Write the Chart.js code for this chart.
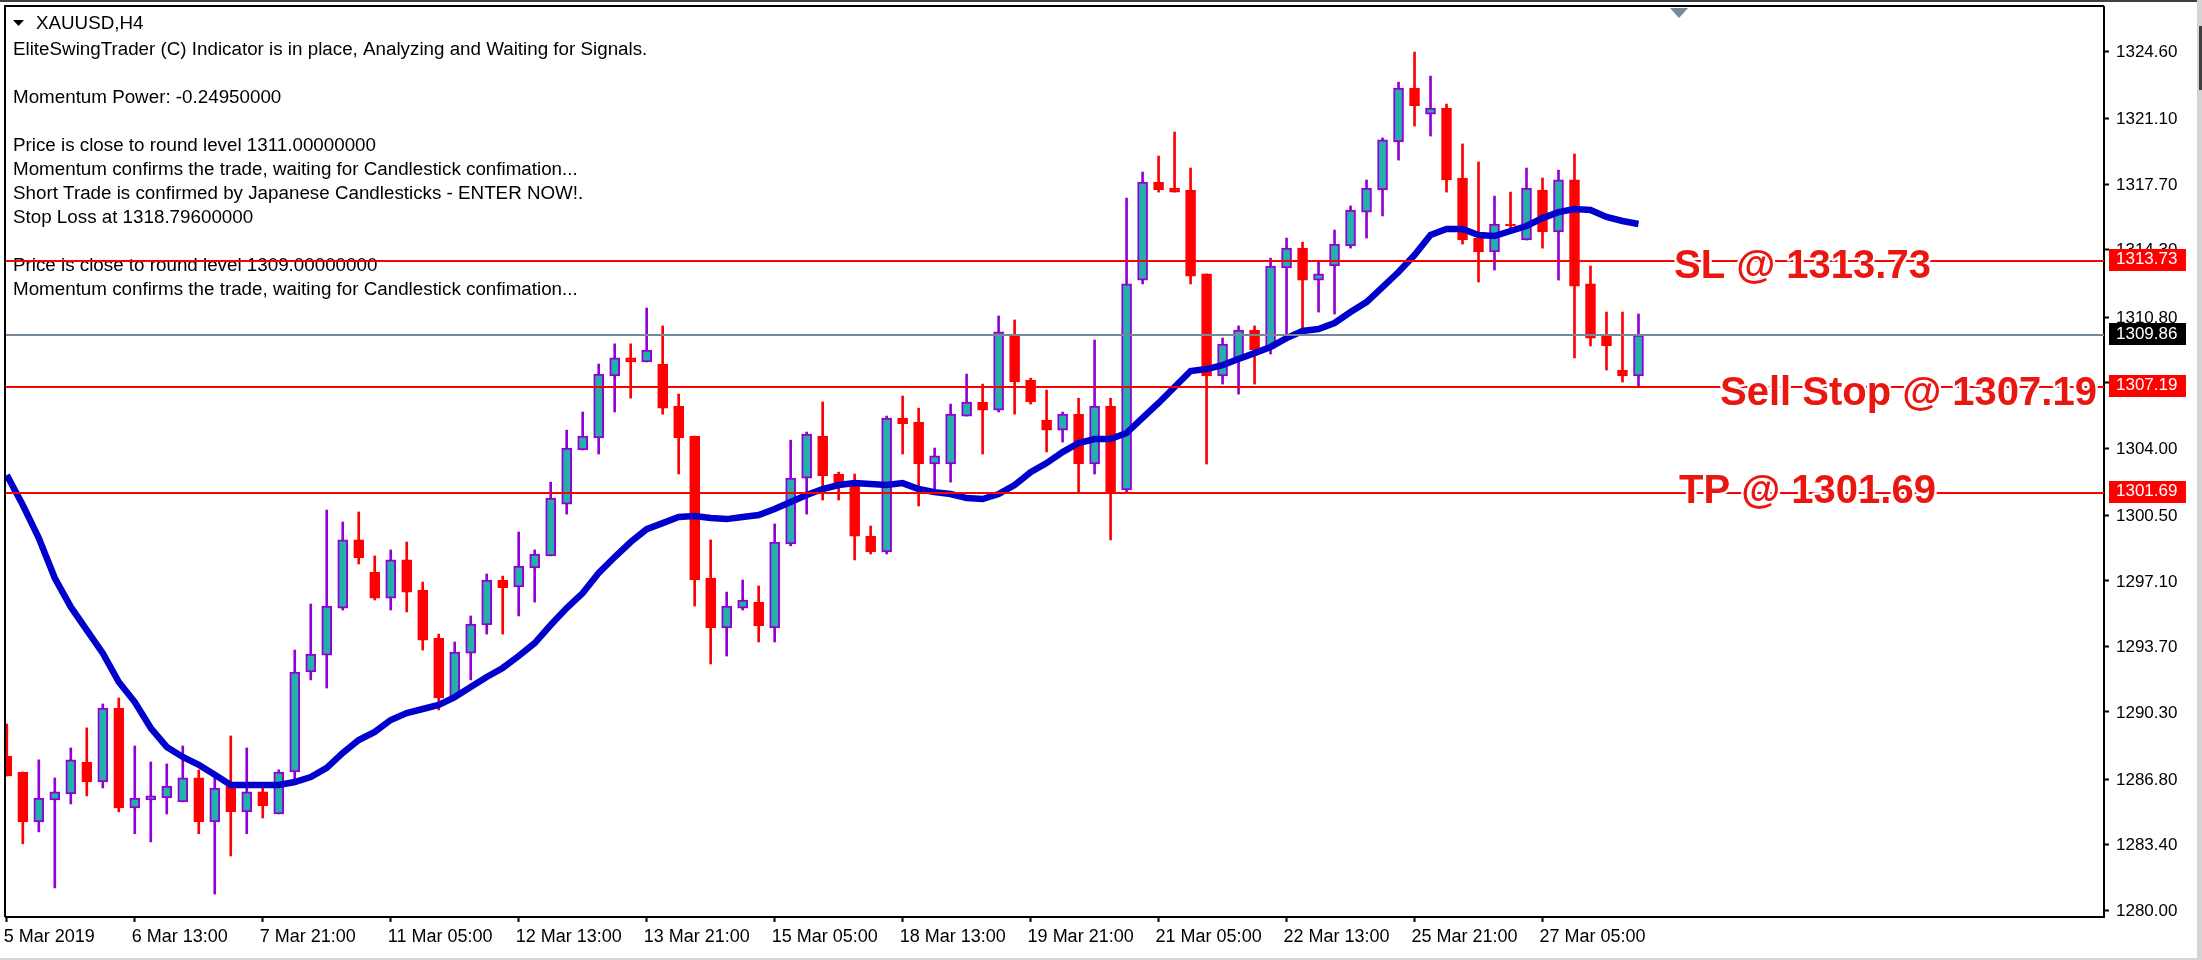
<!DOCTYPE html>
<html>
<head>
<meta charset="UTF-8">
<title>XAUUSD,H4</title>
<script src="https://cdn.jsdelivr.net/npm/chart.js"></script>
<style>
  html, body { margin: 0; padding: 0; background: #fff; overflow: hidden; }
  canvas { display: block; }
</style>
</head>
<body>
<canvas id="myChart" width="2202" height="960"></canvas>
<script>
// candles, oldest first, one every 4 hours
const opens = [1288.01,1287.18,1284.59,1285.73,1286.04,1287.70,1286.66,1290.50,1285.31,1285.73,
1285.83,1285.63,1286.87,1284.59,1286.45,1285.11,1286.15,1285.00,1287.18,1292.37,
1293.25,1295.69,1299.23,1297.56,1296.21,1298.19,1296.63,1294.13,1291.07,1293.35,
1294.81,1297.15,1296.79,1297.77,1298.40,1301.09,1303.90,1304.52,1307.74,1308.68,
1308.47,1308.36,1306.18,1304.62,1297.25,1294.66,1295.69,1296.00,1294.66,1299.02,
1302.44,1304.62,1302.65,1302.13,1299.43,1298.60,1305.56,1305.35,1303.17,1303.17,
1305.66,1306.39,1305.97,1309.92,1307.53,1305.45,1304.93,1305.76,1303.17,1306.18,
1301.82,1312.72,1317.81,1317.50,1317.40,1313.04,1307.74,1308.68,1310.13,1309.19,
1313.35,1314.38,1312.72,1313.45,1314.49,1316.25,1317.40,1319.89,1322.69,1321.34,
1321.65,1318.02,1314.90,1314.18,1315.63,1314.80,1317.40,1315.22,1317.92,1312.52,
1309.82,1308.05,1307.74];
const highs = [1289.67,1287.18,1287.81,1286.87,1288.43,1289.47,1290.71,1291.02,1288.53,1287.70,
1287.60,1288.53,1287.29,1286.87,1289.05,1288.43,1286.45,1287.29,1293.51,1295.90,
1300.78,1300.16,1300.68,1298.40,1298.71,1299.12,1297.04,1294.34,1293.93,1295.28,
1297.46,1297.35,1299.64,1298.71,1302.23,1304.93,1305.87,1308.36,1309.41,1309.41,
1311.27,1310.34,1306.80,1304.62,1299.23,1296.52,1297.15,1296.84,1300.06,1304.41,
1304.83,1306.39,1302.75,1302.65,1299.95,1305.66,1306.70,1306.07,1304.00,1306.28,
1307.84,1307.32,1310.86,1310.65,1307.63,1307.01,1305.87,1306.59,1309.61,1306.59,
1316.98,1318.33,1319.16,1320.41,1318.54,1313.04,1309.71,1310.34,1310.34,1313.86,
1314.90,1314.69,1313.66,1315.32,1316.57,1317.92,1320.10,1323.00,1324.56,1323.31,
1321.86,1319.79,1318.85,1317.08,1317.29,1318.54,1318.02,1318.43,1319.27,1313.45,
1311.06,1311.06,1310.96];
const lows = [1286.97,1283.45,1284.07,1281.16,1285.52,1285.94,1286.35,1285.11,1283.97,1283.55,
1285.00,1285.63,1283.97,1280.84,1282.82,1283.97,1284.79,1285.00,1286.77,1291.96,
1291.54,1295.59,1297.98,1296.11,1295.59,1295.49,1293.51,1290.40,1291.07,1291.96,
1294.34,1294.34,1295.28,1296.00,1298.40,1300.57,1303.90,1303.69,1305.87,1306.59,
1308.47,1305.76,1302.65,1295.80,1292.79,1293.20,1295.59,1293.93,1293.93,1298.92,
1300.57,1301.30,1301.30,1298.19,1298.50,1298.50,1303.69,1300.99,1301.71,1302.23,
1305.66,1303.69,1305.87,1305.76,1306.28,1303.80,1304.31,1301.71,1302.65,1299.23,
1301.71,1312.52,1317.29,1317.29,1312.52,1303.17,1307.32,1306.80,1307.32,1308.88,
1309.87,1310.13,1311.06,1310.96,1314.38,1314.90,1316.05,1318.95,1320.72,1320.20,
1317.29,1314.59,1312.62,1313.24,1315.32,1314.80,1314.38,1312.72,1308.68,1309.30,
1308.05,1307.43,1307.22];
const closes = [1286.97,1284.59,1285.83,1286.15,1287.81,1286.66,1290.50,1285.31,1285.83,1285.94,
1286.45,1286.87,1284.59,1286.35,1285.11,1286.15,1285.42,1287.18,1292.37,1293.30,
1295.80,1299.23,1298.29,1296.21,1298.19,1296.52,1294.03,1291.02,1293.41,1294.86,
1297.15,1296.74,1297.87,1298.50,1301.40,1304.00,1304.62,1307.84,1308.68,1308.47,
1309.09,1306.07,1304.52,1297.15,1294.66,1295.80,1296.11,1294.76,1299.12,1302.44,
1304.72,1302.55,1302.03,1299.43,1298.60,1305.56,1305.25,1303.17,1303.59,1305.76,
1306.39,1305.97,1310.03,1307.43,1306.39,1304.93,1305.76,1303.17,1306.18,1301.66,
1312.52,1317.81,1317.40,1317.29,1312.93,1307.74,1309.40,1310.13,1309.09,1313.45,
1314.38,1312.72,1313.04,1314.59,1316.36,1317.50,1320.00,1322.69,1321.76,1321.65,
1317.92,1314.80,1314.18,1315.63,1315.53,1317.50,1315.22,1317.92,1312.41,1309.71,
1309.30,1307.74,1309.86];
const movingAverage = [1302.60,1301.04,1299.33,1297.25,1295.75,1294.55,1293.35,1291.85,1290.81,1289.46,
1288.48,1287.96,1287.55,1287.03,1286.51,1286.51,1286.51,1286.51,1286.66,1286.92,
1287.39,1288.17,1288.84,1289.26,1289.88,1290.24,1290.45,1290.66,1291.07,1291.59,
1292.11,1292.58,1293.20,1293.87,1294.81,1295.69,1296.47,1297.51,1298.34,1299.12,
1299.79,1300.10,1300.42,1300.47,1300.37,1300.31,1300.42,1300.52,1300.83,1301.20,
1301.56,1301.87,1302.08,1302.18,1302.13,1302.08,1302.18,1301.87,1301.71,1301.61,
1301.40,1301.35,1301.61,1302.08,1302.75,1303.22,1303.79,1304.26,1304.47,1304.47,
1304.78,1305.56,1306.34,1307.17,1308.00,1308.10,1308.31,1308.62,1308.93,1309.25,
1309.71,1310.08,1310.18,1310.49,1311.06,1311.58,1312.36,1313.14,1314.02,1315.06,
1315.37,1315.37,1315.06,1315.01,1315.27,1315.53,1315.94,1316.25,1316.41,1316.36,
1316.00,1315.79,1315.63];

// axes
const priceTicks = [1280.00,1283.40,1286.80,1290.30,1293.70,1297.10,1300.50,1304.00,1307.40,1310.80,1314.30,1317.70,1321.10,1324.60];
const timeTickBars = [0,8,16,24,32,40,48,56,64,72,80,88,96];
const timeTickLabels = ["5 Mar 2019","6 Mar 13:00","7 Mar 21:00","11 Mar 05:00","12 Mar 13:00","13 Mar 21:00","15 Mar 05:00","18 Mar 13:00","19 Mar 21:00","21 Mar 05:00","22 Mar 13:00","25 Mar 21:00","27 Mar 05:00"];

// horizontal levels
const levelPrices = [1313.73, 1307.19, 1301.69];
const levelNames = ["SL @ 1313.73", "Sell Stop @ 1307.19", "TP @ 1301.69"];
const bidPrice = 1309.86;

const chartTitle = "XAUUSD,H4";
const commentLines = [
  "EliteSwingTrader (C) Indicator is in place, Analyzing and Waiting for Signals.",
  "",
  "Momentum Power: -0.24950000",
  "",
  "Price is close to round level 1311.00000000",
  "Momentum confirms the trade, waiting for Candlestick confimation...",
  "Short Trade is confirmed by Japanese Candlesticks - ENTER NOW!.",
  "Stop Loss at 1318.79600000",
  "",
  "Price is close to round level 1309.00000000",
  "Momentum confirms the trade, waiting for Candlestick confimation..."
];

const RED = '#ff0000', VIOLET = '#9400d3', TEAL = '#20b2aa', BLUE = '#0000cd', GRAY = '#778899';
const FONT = '"Liberation Sans", Arial, sans-serif';
const isUp = closes.map((c, i) => c > opens[i]);

// everything the library has no element for: frame, levels, price tags, texts
const overlay = {
  id: 'overlay',
  beforeDraw(chart) {
    const c = chart.ctx;
    c.save();
    c.fillStyle = '#fff';
    c.fillRect(0, 0, 2202, 960);
    c.fillStyle = '#404040';
    c.fillRect(0, 0, 2198, 2);
    c.fillStyle = '#d4d4d4';
    c.fillRect(0, 958, 2202, 2);
    c.fillRect(2197, 0, 5, 960);
    c.fillStyle = '#404040';
    c.fillRect(2199, 26, 3, 64);
    c.restore();
  },
  afterDatasetsDraw(chart) {
    const c = chart.ctx, a = chart.chartArea, y = chart.scales.y;
    c.save();
    // comment text sits under the level lines
    c.fillStyle = '#000';
    c.font = '18.8px ' + FONT;
    c.textBaseline = 'middle';
    c.fillText(chartTitle, 36, 24);
    commentLines.forEach((t, i) => c.fillText(t, 13, 50 + 24 * i));
    c.beginPath();
    c.moveTo(13, 20); c.lineTo(24, 20); c.lineTo(18.5, 26); c.closePath();
    c.fill();

    c.fillStyle = GRAY;
    c.fillRect(a.left, Math.round(y.getPixelForValue(bidPrice)) - 1, a.width, 2);
    c.fillStyle = RED;
    levelPrices.forEach(p => c.fillRect(a.left, Math.round(y.getPixelForValue(p)) - 1, a.width, 2));

    // shift marker on the top edge
    c.fillStyle = GRAY;
    c.beginPath();
    c.moveTo(1670, 8); c.lineTo(1688, 8); c.lineTo(1679, 18); c.closePath();
    c.fill();

    // big labels: white halo cuts the level line around the letters
    const nameX = [1674, 1720, 1679], nameDy = [17, 18, 10];
    c.font = 'bold 40px ' + FONT;
    c.textBaseline = 'alphabetic';
    c.lineJoin = 'round';
    levelNames.forEach((t, i) => {
      const py = y.getPixelForValue(levelPrices[i]) + nameDy[i];
      c.strokeStyle = '#fff';
      c.lineWidth = 5;
      c.strokeText(t, nameX[i], py);
      c.fillStyle = '#ea1710';
      c.fillText(t, nameX[i], py);
    });

    // frame, left and top
    c.fillStyle = '#000';
    c.fillRect(a.left - 2, a.top - 2, a.width + 2, 2);
    c.fillRect(a.left - 2, a.top - 2, 2, a.height + 2);
    c.restore();
  },
  afterDraw(chart) {
    const c = chart.ctx, y = chart.scales.y;
    const tag = (p, bg) => {
      const py = y.getPixelForValue(p);
      c.fillStyle = bg;
      c.fillRect(2109, Math.round(py) - 12, 77, 22);
      c.fillStyle = '#fff';
      c.font = '17px ' + FONT;
      c.textBaseline = 'middle';
      c.fillText(p.toFixed(2), 2116, py - 1);
    };
    c.save();
    levelPrices.forEach(p => tag(p, RED));
    tag(bidPrice, '#000');
    c.restore();
  }
};

new Chart(document.getElementById('myChart'), {
  type: 'bar',
  data: {
    datasets: [
      {
        type: 'line',
        data: movingAverage.map((v, i) => ({ x: i, y: v })),
        borderColor: BLUE,
        borderWidth: 6.5,
        pointRadius: 0,
        tension: 0,
        order: 0
      },
      {
        data: opens.map((o, i) => ({ x: i, y: [Math.min(o, closes[i]), Math.max(o, closes[i])] })),
        backgroundColor: isUp.map(u => u ? TEAL : RED),
        borderColor: isUp.map(u => u ? VIOLET : RED),
        borderWidth: 2,
        borderSkipped: false,
        barThickness: 10,
        grouped: false,
        order: 1
      },
      {
        data: highs.map((h, i) => ({ x: i, y: [lows[i], h] })),
        backgroundColor: isUp.map(u => u ? VIOLET : RED),
        borderWidth: 0,
        barThickness: 2,
        grouped: false,
        order: 2
      }
    ]
  },
  plugins: [overlay],
  options: {
    responsive: false,
    animation: false,
    layout: { padding: { left: 6, top: 7, right: 0, bottom: 0 } },
    plugins: { legend: { display: false }, tooltip: { enabled: false } },
    scales: {
      x: {
        type: 'linear',
        offset: false,
        min: -0.05,
        max: 131.1,
        afterFit: ax => { ax.height = 43; ax.paddingLeft = 0; ax.paddingRight = 0; },
        afterBuildTicks: ax => { ax.ticks = timeTickBars.map(v => ({ value: v })); },
        grid: { display: true, offset: false, drawOnChartArea: false, color: '#000', tickLength: 5, tickWidth: 2 },
        border: { display: true, color: '#000', width: 2 },
        ticks: {
          autoSkip: false,
          maxRotation: 0,
          align: 'start',
          labelOffset: -3,
          padding: 4,
          color: '#000',
          font: { family: FONT, size: 18 },
          callback: v => timeTickLabels[timeTickBars.indexOf(v)]
        }
      },
      y: {
        type: 'linear',
        position: 'right',
        min: 1279.65,
        max: 1326.90,
        afterFit: ax => { ax.width = 98; ax.paddingTop = 0; ax.paddingBottom = 0; },
        afterBuildTicks: ax => { ax.ticks = priceTicks.map(v => ({ value: v })); },
        grid: { display: true, drawOnChartArea: false, color: '#000', tickLength: 5, tickWidth: 2 },
        border: { display: true, color: '#000', width: 2 },
        ticks: {
          autoSkip: false,
          padding: 7,
          labelOffset: 1,
          color: '#000',
          font: { family: FONT, size: 17 },
          callback: v => v.toFixed(2)
        }
      }
    }
  }
});
</script>
</body>
</html>
